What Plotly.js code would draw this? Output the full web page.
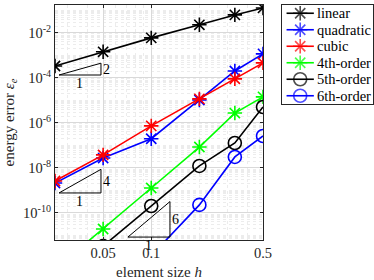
<!DOCTYPE html>
<html><head><meta charset="utf-8">
<script src="https://cdn.plot.ly/plotly-3.0.1.min.js"></script>
<style>body{margin:0;padding:0;background:#fff}#c{width:374px;height:280px}</style>
</head><body><div id="c"></div>
<script>
// element sizes h
const h = [1/40, 1/20, 1/10, 1/5, 1/3, 1/2];
// energy error (log10 values)
const linearLog    = [-3.47, -2.84, -2.22, -1.64, -1.20, -0.89];
const quadraticLog = [-8.67, -7.56, -6.70, -4.98, -3.69, -2.93];
const cubicLog     = [-8.58, -7.42, -6.13, -4.93, -4.04, -3.33];
const fourthLog    = [-12.5, -10.71, -8.89, -7.07, -5.56, -4.84];
const fifthLog     = [null, -11.47, -9.69, -7.91, -6.89, -5.29];
const sixthLog     = [null, null, -11.9, -9.64, -7.51, -6.58];
const names = ['linear','quadratic','cubic','4th-order','5th-order','6th-order'];
const xTicks = [0.05, 0.1, 0.5];
const xTickText = ['0.05', '0.1', '0.5'];
const yTickExp = [-2, -4, -6, -8, -10];
// slope triangles: [x0, x1 (log10 h), yBottom (log10 err), slope]
const triangles = [[-1.577, -1.3145, -3.87, 2], [-1.577, -1.3145, -9.11, 4], [-1.146, -0.883, -11.07, 6]];

const W = 374, H = 280;
const M = {l: 55, r: 1, t: 5, b: 40};
const plotW = W - M.l - M.r, plotH = H - M.t - M.b;
const mainRight = 263;                // px, right edge of main axes
const legBox = {x0: 282, x1: 373, y0: 5, y1: 104}; // px
const xRange = [Math.log10(0.025), Math.log10(0.5)];
const yRange = [-11.2, -0.76];
const xDomEnd = (mainRight - M.l) / plotW;

const toVal = a => a.map(v => v === null ? null : Math.pow(10, v));
const series = [linearLog, quadraticLog, cubicLog, fourthLog, fifthLog, sixthLog];
const colors = ['#000000','#0000ff','#ff0000','#00ff00','#000000','#0000ff'];
const symbols = ['asterisk-open','asterisk-open','asterisk-open','asterisk-open','circle-open','circle-open'];
const sizes = [12,12,12,12,13,13];

const traces = series.map((s, i) => ({
  x: h, y: toVal(s), name: names[i], type: 'scatter', mode: 'lines+markers',
  line: {color: colors[i], width: 1.6},
  marker: {symbol: symbols[i], size: sizes[i], color: colors[i], line: {color: colors[i], width: 1.6}},
  cliponaxis: true, showlegend: false
}));

// custom legend drawn on its own small axes (0..1 coordinates)
const legN = names.length;
const legAnn = [];
names.forEach((nm, i) => {
  const yy = 1 - (i + 0.5) / legN;
  traces.push({
    x: [0.05, 0.2, 0.35], y: [yy, yy, yy], xaxis: 'x2', yaxis: 'y2', type: 'scatter', mode: 'lines+markers',
    line: {color: colors[i], width: 1.6}, showlegend: false, hoverinfo: 'skip',
    marker: {symbol: symbols[i], size: [0, sizes[i], 0], color: colors[i], line: {color: colors[i], width: 1.6}}
  });
  legAnn.push({xref: 'x2', yref: 'y2', x: 0.36, y: yy, text: nm, showarrow: false, xanchor: 'left',
    font: {family: 'Liberation Serif', size: 14.5, color: '#000'}});
});

const minorY = [];
for (let n = -12; n <= 0; n++) for (let k = 1; k <= 9; k++) minorY.push(k * Math.pow(10, n));
const minorX = [];
for (let n = -2; n <= 0; n++) for (let k = 1; k <= 9; k++) minorX.push(k * Math.pow(10, n));

// convert log10 coordinates to paper coordinates
const px = lx => xDomEnd * (lx - xRange[0]) / (xRange[1] - xRange[0]);
const py = ly => (ly - yRange[0]) / (yRange[1] - yRange[0]);

const shapes = [];
const annotations = legAnn.slice();
const triLine = {color: '#000', width: 1};
triangles.forEach(t => {
  const [x0, x1, yb, s] = t;
  const yt = yb + s * (x1 - x0);
  shapes.push({type: 'path', xref: 'paper', yref: 'paper',
    path: `M${px(x0)},${py(yb)} L${px(x1)},${py(yb)} L${px(x1)},${py(yt)} Z`,
    line: triLine, fillcolor: 'rgba(0,0,0,0)', layer: 'above'});
  annotations.push({xref: 'x', yref: 'y', x: x1, y: (yb + yt) / 2, text: String(s),
    showarrow: false, xanchor: 'left', xshift: 0, font: {family: 'Liberation Serif', size: 14, color: '#000'}});
  annotations.push({xref: 'x', yref: 'y', x: (x0 + x1) / 2, y: yb, text: '1',
    showarrow: false, yanchor: 'top', yshift: 1, font: {family: 'Liberation Serif', size: 14, color: '#000'}});
});

const axisCommon = {
  type: 'log', showline: true, linecolor: '#262626', linewidth: 1, mirror: 'ticks',
  ticks: 'inside', ticklen: 3, tickcolor: '#262626',
  gridcolor: '#d9d9d9', gridwidth: 1, zeroline: false, automargin: false,
  tickfont: {family: 'Liberation Serif', size: 14.5, color: '#262626'}
};

const layout = {
  width: W, height: H,
  margin: M,
  paper_bgcolor: '#fff', plot_bgcolor: 'rgba(0,0,0,0)',
  font: {family: 'Liberation Serif', color: '#262626'},
  xaxis: Object.assign({}, axisCommon, {
    domain: [0, xDomEnd],
    range: xRange,
    tickmode: 'array', tickvals: xTicks, ticktext: xTickText,
    minor: {tickmode: 'array', tickvals: minorX, showgrid: true, gridcolor: '#ececec', griddash: 'dot', ticks: ''},
    title: {text: 'element size <i>h</i>', font: {family: 'Liberation Serif', size: 15, color: '#262626'}, standoff: 6}
  }),
  yaxis: Object.assign({}, axisCommon, {
    range: yRange,
    tickmode: 'array', tickvals: yTickExp.map(e => Math.pow(10, e)),
    ticktext: yTickExp.map(e => '10<sup>' + e + '</sup>'),
    minor: {tickmode: 'array', tickvals: minorY, showgrid: true, gridcolor: '#ececec', griddash: 'dot', ticks: ''},
    title: {text: 'energy error <i>ε<sub>e</sub></i>', font: {family: 'Liberation Serif', size: 15, color: '#262626'}, standoff: 4}
  }),
  xaxis2: {domain: [(legBox.x0 - M.l) / plotW, (legBox.x1 - M.l) / plotW], range: [0, 1], anchor: 'y2',
    showline: true, mirror: true, linecolor: '#262626', linewidth: 1, showgrid: false, zeroline: false,
    showticklabels: false, ticks: '', fixedrange: true},
  yaxis2: {domain: [(H - M.b - legBox.y1) / plotH, (H - M.b - legBox.y0) / plotH], range: [0, 1], anchor: 'x2',
    showline: true, mirror: true, linecolor: '#262626', linewidth: 1, showgrid: false, zeroline: false,
    showticklabels: false, ticks: '', fixedrange: true},
  showlegend: false,
  shapes: shapes, annotations: annotations
};

Plotly.newPlot('c', traces, layout, {displayModeBar: false, staticPlot: true});
</script></body></html>
